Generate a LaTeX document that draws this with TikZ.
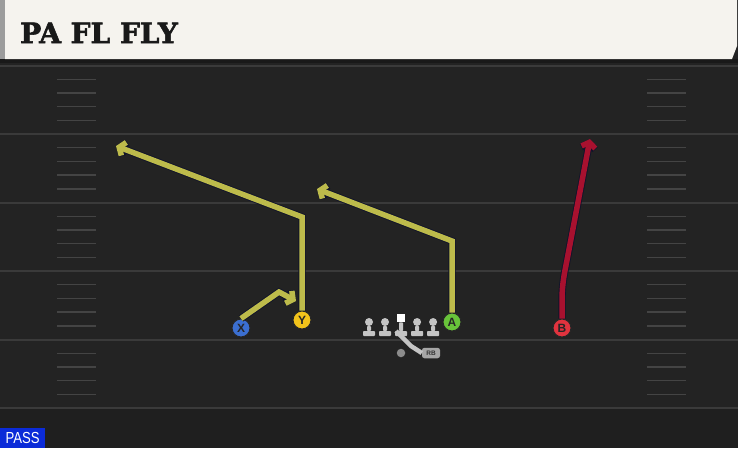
\documentclass[tikz,border=0pt]{standalone}
\usepackage{fontspec}
\setmainfont{DejaVu Serif}[BoldFeatures={FakeBold=2}]
\setsansfont{Liberation Sans}
\usetikzlibrary{positioning,calc,arrows.meta}

\definecolor{field}{HTML}{232323}
\definecolor{fieldlow}{HTML}{1F1F1F}
\definecolor{yardline}{HTML}{3A3A3A}
\definecolor{hashline}{HTML}{444444}
\definecolor{header}{HTML}{F5F3EE}
\definecolor{headerbar}{HTML}{9C9C9C}
\definecolor{routeyellow}{HTML}{BDBB4B}
\definecolor{routered}{HTML}{A8112F}
\definecolor{routeedge}{HTML}{11142A}
\definecolor{xblue}{HTML}{3B6FD1}
\definecolor{yyellow}{HTML}{F2C31B}
\definecolor{agreen}{HTML}{68C33A}
\definecolor{bred}{HTML}{E0333E}
\definecolor{mangray}{HTML}{C4C4C4}
\definecolor{passblue}{HTML}{0B2BD8}

\begin{document}
\begin{tikzpicture}[x=1pt,y=-1pt,
		player/.style={circle,draw=black!85,line width=1pt,minimum size=18pt,inner sep=0pt,
			font=\sffamily\bfseries\fontsize{12}{12}\selectfont,text=black!85},
		lineman/.style={circle,fill=mangray,minimum size=8pt,inner sep=0pt,outer sep=0pt,node distance=8pt},
		snapper/.style={rectangle,fill=white,minimum size=8.5pt,inner sep=0pt,outer sep=0pt},
		route/.style={line width=5.5pt,preaction={draw=routeedge,line width=7.3pt},
			-{Straight Barb[length=5pt,width=14pt]}},
		handoff/.style={draw=mangray,line width=4.5pt},
		hash/.style={draw=hashline,line width=1.4pt}]
	\useasboundingbox (0,0) rectangle (738,448);
	\fill[field] (0,0) rectangle (738,448);
	\fill[fieldlow] (0,408) rectangle (738,448);
	\foreach \i in {0,...,5}
		\draw[yardline,line width=2pt] (0,65.5+68.5*\i) -- (738,65.5+68.5*\i);
	\foreach \i in {0,...,4}
		\foreach \k in {1,...,4}{
			\draw[hash] (57,65.5+68.5*\i+13.7*\k) -- (96,65.5+68.5*\i+13.7*\k);
			\draw[hash] (647,65.5+68.5*\i+13.7*\k) -- (686,65.5+68.5*\i+13.7*\k);
		}
	\fill[black!90] (0,59) rectangle (738,63);
	\fill[header] (5,0) -- (737,0) -- (737,46) -- (732,59) -- (5,59) -- cycle;
	\fill[headerbar] (0,0) rectangle (5,59);
	\node (TITLE) [anchor=base west,inner sep=0pt,font=\bfseries\fontsize{28}{28}\selectfont,text=black!90] at (20,43) {PA FL FLY};

	\node[player,fill=xblue]   (X) at (241,328) {X};
	\node[player,fill=yyellow] (Y) at (302,320) {Y};
	\node[player,fill=agreen]  (A) at (452,322) {A};
	\node[player,fill=bred]    (B) at (562,328) {B};

	\coordinate (Xbreak) at (279,292);
	\coordinate (Xend)   at (296,301);
	\coordinate (Ybreak) at (302,217);
	\coordinate (Yend)   at (116,146);
	\coordinate (Abreak) at (452,241);
	\coordinate (Aend)   at (317,189);
	\coordinate (Bcurve) at (562,300);
	\coordinate (Bmid)   at (567,260);
	\coordinate (Bend)   at (590,139);

	\draw[route,routeyellow] (X.north) -- (Xbreak) -- (Xend);
	\draw[route,routeyellow] (Y.north) -- (Ybreak) -- (Yend);
	\draw[route,routeyellow] (A.north) -- (Abreak) -- (Aend);
	\draw[route,routered]    (B.north) -- (Bcurve) .. controls (562,284) and (564.5,273) .. (Bmid) -- (Bend);

	\node[lineman] (LT) at (369,322) {};
	\node[lineman] (LG) [right=of LT] {};
	\node[snapper] (C)  [right=7.8pt of LG,yshift=4pt] {};
	\node[lineman] (RG) [right=7.8pt of C,yshift=-4pt] {};
	\node[lineman] (RT) [right=of RG] {};
	\coordinate (snap) at (0,331);
	\foreach \n in {LT,LG,C,RG,RT}
		\fill[mangray,rounded corners=0.8pt] ([xshift=-2pt]\n.south) rectangle ([xshift=2pt]\n |- snap)
			([xshift=-6pt]\n |- snap) rectangle ([xshift=6pt,yshift=-5pt]\n |- snap);

	\node (QB) [circle,fill=black!45,minimum size=8.5pt,inner sep=0pt] at (401,353) {};
	\node (RB) [rectangle,rounded corners=2.5pt,fill=black!35,minimum width=18pt,minimum height=10.5pt,inner sep=0pt,
		font=\sffamily\bfseries\fontsize{6.5}{6.5}\selectfont,text=black!80] at (431,353) {RB};
	\coordinate (mesh) at (411,346);
	\draw[handoff] ([xshift=-5pt]C |- snap) -- (mesh) -- (RB.west);

	\node (PLAY) [fill=passblue,anchor=south west,minimum width=45pt,minimum height=20pt,inner sep=0pt,
		text=white,font=\sffamily\fontsize{16}{16}\selectfont] at (0,448) {\scalebox{0.82}[1]{PASS}};
\end{tikzpicture}
\end{document}
